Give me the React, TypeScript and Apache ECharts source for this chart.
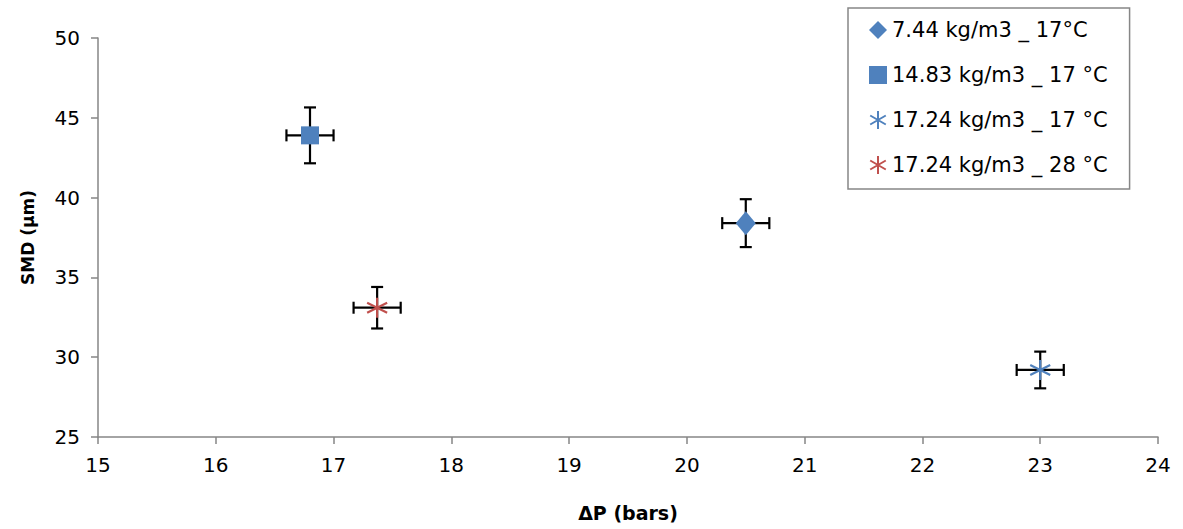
import React, { useEffect, useRef } from "react";
import * as echarts from "echarts";

const seriesNames = [
  "7.44 kg/m3 _ 17°C",
  "14.83 kg/m3 _ 17 °C",
  "17.24 kg/m3 _ 17 °C",
  "17.24 kg/m3 _ 28 °C",
];
const deltaP = [20.5, 16.8, 23.0, 17.37];
const smd = [38.4, 43.9, 29.2, 33.1];
const deltaPErr = [0.2, 0.2, 0.2, 0.2];
const smdErr = [1.5, 1.75, 1.15, 1.3];
const colors = ["#4F81BD", "#4F81BD", "#4F81BD", "#C0504D"];

const STAR = "path://M0,-10L0,10M-8.66,-5L8.66,5M-8.66,5L8.66,-5";
const FONT = "DejaVu Sans";

export default function App() {
  const ref = useRef<HTMLDivElement>(null);
  useEffect(() => {
    if (!ref.current) return;
    const chart = echarts.init(ref.current, undefined, { renderer: "svg" });
    const errData = deltaP.map((x, i) => [x, smd[i], deltaPErr[i], smdErr[i]]);
    const markerSeries = seriesNames.map((name, i) => {
      const isStar = i >= 2;
      return {
        name,
        type: "scatter",
        z: 5,
        data: [[deltaP[i], smd[i]]],
        symbol: i === 0 ? "diamond" : i === 1 ? "rect" : STAR,
        symbolSize: i === 0 ? [20, 24] : i === 1 ? 18 : 20,
        itemStyle: isStar
          ? { color: "rgba(0,0,0,0)", borderColor: colors[i], borderWidth: 2.2, opacity: 1 }
          : { color: colors[i], opacity: 1 },
      };
    });
    chart.setOption({
      animation: false,
      textStyle: { fontFamily: FONT },
      grid: { left: 98, right: 25, top: 38, bottom: 92 },
      xAxis: {
        type: "value",
        min: 15,
        max: 24,
        interval: 1,
        name: "ΔP (bars)",
        nameLocation: "middle",
        nameGap: 66,
        nameTextStyle: { fontFamily: FONT, fontWeight: "bold", fontSize: 19, color: "#000" },
        axisLine: { lineStyle: { color: "#868686", width: 1.5 } },
        axisTick: { show: true, length: 7, lineStyle: { color: "#868686", width: 1.5 } },
        axisLabel: { fontFamily: FONT, fontSize: 20, color: "#000", margin: 18 },
        splitLine: { show: false },
      },
      yAxis: {
        type: "value",
        min: 25,
        max: 50,
        interval: 5,
        name: "SMD (µm)",
        nameLocation: "middle",
        nameGap: 62,
        nameRotate: 90,
        nameTextStyle: { fontFamily: FONT, fontWeight: "bold", fontSize: 17, color: "#000" },
        axisLine: { show: true, lineStyle: { color: "#868686", width: 1.5 } },
        axisTick: { show: true, length: 7, lineStyle: { color: "#868686", width: 1.5 } },
        axisLabel: { fontFamily: FONT, fontSize: 20, color: "#000", margin: 18 },
        splitLine: { show: false },
      },
      legend: {
        orient: "vertical",
        left: 848,
        top: 8,
        padding: [10, 22, 12, 21],
        itemGap: 21,
        itemWidth: 18,
        itemHeight: 18,
        borderColor: "#868686",
        borderWidth: 1.5,
        textStyle: { fontFamily: FONT, fontSize: 21, color: "#000", lineHeight: 24 },
        data: seriesNames,
      },
      series: [
        {
          type: "custom",
          name: "errors",
          z: 2,
          data: errData,
          renderItem: (params: any, api: any) => {
            const x = api.value(0);
            const y = api.value(1);
            const ex = api.value(2);
            const ey = api.value(3);
            const l = api.coord([x - ex, y]);
            const r = api.coord([x + ex, y]);
            const t = api.coord([x, y + ey]);
            const b = api.coord([x, y - ey]);
            const cap = 6;
            const st = { stroke: "#000", lineWidth: 2.2 };
            return {
              type: "group",
              children: [
                { type: "line", shape: { x1: l[0], y1: l[1], x2: r[0], y2: r[1] }, style: st },
                { type: "line", shape: { x1: l[0], y1: l[1] - cap, x2: l[0], y2: l[1] + cap }, style: st },
                { type: "line", shape: { x1: r[0], y1: r[1] - cap, x2: r[0], y2: r[1] + cap }, style: st },
                { type: "line", shape: { x1: t[0], y1: t[1], x2: b[0], y2: b[1] }, style: st },
                { type: "line", shape: { x1: t[0] - cap, y1: t[1], x2: t[0] + cap, y2: t[1] }, style: st },
                { type: "line", shape: { x1: b[0] - cap, y1: b[1], x2: b[0] + cap, y2: b[1] }, style: st },
              ],
            };
          },
        },
        ...markerSeries,
      ],
    });
    return () => chart.dispose();
  }, []);
  return <div ref={ref} style={{ width: 1183, height: 529, position: "absolute", left: 0, top: 0 }} />;
}
